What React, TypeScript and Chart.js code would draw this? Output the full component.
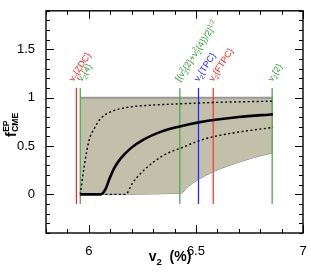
import React, { useEffect, useRef } from 'react';
import { Chart, registerables } from 'chart.js';

Chart.register(...registerables);

// ---- data ----
const xTickValues = [6, 6.5, 7];
const yTickValues = [0, 0.5, 1, 1.5];

const bandX = [5.96, 6.43, 6.46, 6.51, 6.58, 6.65, 6.72, 6.79, 6.86];
const bandLowY = [0, 0.012, 0.075, 0.153, 0.234, 0.295, 0.347, 0.393, 0.43];
const bandHighY = [1, 1, 1, 1, 1, 1, 1, 1, 1];

const solidX = [5.96, 6.056, 6.079, 6.094, 6.118, 6.149, 6.195, 6.257, 6.335, 6.425, 6.513, 6.6, 6.7, 6.86];
const solidY = [0, 0, 0.06, 0.148, 0.27, 0.372, 0.476, 0.569, 0.647, 0.703, 0.745, 0.774, 0.8, 0.83];

const upDotX = [5.96, 5.978, 6.001, 6.025, 6.056, 6.102, 6.18, 6.288, 6.425, 6.6, 6.86];
const upDotY = [0, 0.285, 0.56, 0.68, 0.786, 0.854, 0.9, 0.923, 0.937, 0.952, 0.965];

const lowDotX = [6.056, 6.172, 6.203, 6.242, 6.304, 6.366, 6.425, 6.513, 6.58, 6.7, 6.86];
const lowDotY = [0, 0, 0.114, 0.217, 0.337, 0.424, 0.475, 0.554, 0.596, 0.645, 0.693];

const markerX = [5.942, 5.96, 6.425, 6.512, 6.581, 6.856];
const markerColors = ['#ff2a2a', '#4daa4d', '#4daa4d', '#2a2aff', '#ff3a3a', '#4daa4d'];
const markerTextColors = ['#ff1a1a', '#2f9f2f', '#2f9f2f', '#1a1aff', '#ff1a1a', '#2f9f2f'];
const markerRange = [-0.1, 1.1];
type Seg = [string, 'n' | 'b' | 'p' | 'bp'];
const markerLabels: Seg[][] = [
  [['v', 'n'], ['2', 'b'], ['{ZDC}', 'n']],
  [['v', 'n'], ['2', 'b'], ['{4}', 'n']],
  [['[(v', 'n'], ['2', 'bp'], ['{2}+v', 'n'], ['2', 'bp'], ['{4})/2]', 'n'], ['1/2', 'p']],
  [['v', 'n'], ['2', 'b'], ['{TPC}', 'n']],
  [['v', 'n'], ['2', 'b'], ['{FTPC}', 'n']],
  [['v', 'n'], ['2', 'b'], ['{2}', 'n']],
];
const labelDx = [-3, 1.5, 0, 0, 0, 0];

const pts = (xs: number[], ys: number[]) => xs.map((x, i) => ({ x, y: ys[i] }));

function drawRich(ctx: CanvasRenderingContext2D, segs: Seg[], x: number, y: number, size: number, weight: string) {
  const fam = '"Liberation Sans", Arial, sans-serif';
  const small = size * 0.68;
  for (const [t, k] of segs) {
    if (k === 'n') {
      ctx.font = `${weight} ${size}px ${fam}`;
      ctx.fillText(t, x, y);
      x += ctx.measureText(t).width;
    } else if (k === 'b') {
      ctx.font = `${weight} ${small}px ${fam}`;
      ctx.fillText(t, x, y + size * 0.28);
      x += ctx.measureText(t).width;
    } else if (k === 'p') {
      ctx.font = `${weight} ${small}px ${fam}`;
      ctx.fillText(t, x, y - size * 0.42);
      x += ctx.measureText(t).width;
    } else {
      ctx.font = `${weight} ${small}px ${fam}`;
      ctx.fillText(t, x, y + size * 0.28);
      ctx.fillText(t, x, y - size * 0.42);
      x += ctx.measureText(t).width;
    }
  }
  return x;
}

const decor = {
  id: 'decor',
  afterDraw(chart: any) {
    const { ctx, chartArea: a, scales } = chart;
    const xs = scales.x, ys = scales.y;
    ctx.save();
    // tick marks
    ctx.strokeStyle = '#000';
    ctx.lineWidth = 1;
    for (let i = 58; i <= 70; i++) {
      const px = Math.round(xs.getPixelForValue(i / 10)) + 0.5;
      const len = i % 5 === 0 ? 8 : 4;
      ctx.beginPath();
      ctx.moveTo(px, a.bottom); ctx.lineTo(px, a.bottom - len);
      ctx.moveTo(px, a.top); ctx.lineTo(px, a.top + len);
      ctx.stroke();
    }
    for (let i = -4; i <= 19; i++) {
      const py = Math.round(ys.getPixelForValue(i / 10)) + 0.5;
      const len = i % 5 === 0 ? 8 : 4;
      ctx.beginPath();
      ctx.moveTo(a.left, py); ctx.lineTo(a.left + len, py);
      ctx.moveTo(a.right, py); ctx.lineTo(a.right - len, py);
      ctx.stroke();
    }
    // frame
    ctx.lineWidth = 1.4;
    ctx.strokeRect(a.left, a.top, a.right - a.left, a.bottom - a.top);

    // marker labels
    const topY = ys.getPixelForValue(markerRange[1]);
    markerLabels.forEach((segs, i) => {
      const px = xs.getPixelForValue(markerX[i]);
      ctx.save();
      ctx.translate(px + labelDx[i], topY - 6);
      ctx.rotate(-57 * Math.PI / 180);
      ctx.fillStyle = markerTextColors[i];
      ctx.textBaseline = 'alphabetic';
      drawRich(ctx, segs, 0, 0, 9, 'normal');
      ctx.restore();
    });

    // y title
    ctx.save();
    ctx.fillStyle = '#000';
    ctx.translate(16, 137);
    ctx.rotate(-Math.PI / 2);
    ctx.font = 'bold 14px "Liberation Sans", Arial, sans-serif';
    ctx.fillText('f', 0, 0);
    const fw = ctx.measureText('f').width + 0.5;
    ctx.font = 'bold 8.5px "Liberation Sans", Arial, sans-serif';
    ctx.fillText('EP', fw, -7);
    ctx.fillText('CME', fw, 1.5);
    ctx.restore();

    // x title
    ctx.save();
    ctx.fillStyle = '#000';
    const segs: Seg[] = [['v', 'n'], ['2', 'b'], ['  (%)', 'n']];
    ctx.font = 'bold 14px "Liberation Sans", Arial, sans-serif';
    const tmpW = (() => {
      let w = ctx.measureText('v').width + ctx.measureText('  (%)').width;
      ctx.font = 'bold 9.5px "Liberation Sans", Arial, sans-serif';
      w += ctx.measureText('2').width;
      return w;
    })();
    drawRich(ctx, segs, 170 - tmpW / 2, 261, 14, 'bold');
    ctx.restore();

    ctx.restore();
  },
};

export default function App() {
  const ref = useRef<HTMLCanvasElement | null>(null);
  useEffect(() => {
    if (!ref.current) return;
    const markerSets = markerX.map((x, i) => ({
      data: [{ x, y: markerRange[0] }, { x, y: markerRange[1] }],
      borderColor: markerColors[i],
      borderWidth: 1.3,
      pointRadius: 0,
      fill: false,
      order: 5,
    }));
    const chart = new Chart(ref.current, {
      type: 'line',
      data: {
        datasets: [
          {
            data: pts(bandX, bandLowY),
            borderColor: '#555',
            borderWidth: 0.8,
            pointRadius: 0,
            fill: false,
            cubicInterpolationMode: 'monotone',
            order: 10,
          },
          {
            data: pts(bandX, bandHighY),
            borderColor: '#999',
            borderWidth: 2,
            pointRadius: 0,
            fill: '-1',
            backgroundColor: '#c2c0aa',
            order: 9,
          },
          ...markerSets,
          {
            data: pts(solidX, solidY),
            borderColor: '#000',
            borderWidth: 2.6,
            pointRadius: 0,
            fill: false,
            cubicInterpolationMode: 'monotone',
            order: 1,
          },
          {
            data: pts(upDotX, upDotY),
            borderColor: '#000',
            borderWidth: 1.4,
            borderDash: [2, 2.5],
            pointRadius: 0,
            fill: false,
            cubicInterpolationMode: 'monotone',
            order: 1,
          },
          {
            data: pts(lowDotX, lowDotY),
            borderColor: '#000',
            borderWidth: 1.4,
            borderDash: [2, 2.5],
            pointRadius: 0,
            fill: false,
            cubicInterpolationMode: 'monotone',
            order: 1,
          },
        ] as any,
      },
      options: {
        responsive: false,
        animation: false,
        layout: { padding: { top: 10, right: 8, left: 0, bottom: 0 } },
        plugins: { legend: { display: false }, tooltip: { enabled: false } },
        scales: {
          x: {
            type: 'linear',
            min: 5.8,
            max: 7,
            grid: { display: false },
            border: { display: false },
            afterBuildTicks: (s: any) => { s.ticks = xTickValues.map((v) => ({ value: v })); },
            afterFit: (s: any) => { s.height = 39; },
            ticks: {
              color: '#000',
              padding: 3,
              maxRotation: 0,
              autoSkip: false,
              font: { family: '"Liberation Sans", Arial, sans-serif', size: 13 },
              callback: (v: any) => String(v),
            },
          },
          y: {
            type: 'linear',
            min: -0.4,
            max: 1.9,
            grid: { display: false },
            border: { display: false },
            afterBuildTicks: (s: any) => { s.ticks = yTickValues.map((v) => ({ value: v })); },
            afterFit: (s: any) => { s.width = 46; },
            ticks: {
              color: '#000',
              padding: 3,
              autoSkip: false,
              font: { family: '"Liberation Sans", Arial, sans-serif', size: 13 },
              callback: (v: any) => String(v),
            },
          },
        },
      },
      plugins: [decor],
    });
    return () => chart.destroy();
  }, []);
  return (
    <div style={{ position: 'fixed', left: 0, top: 0, width: 311, height: 272, background: '#fff' }}>
      <canvas ref={ref} width={311} height={272} style={{ display: 'block' }} />
    </div>
  );
}
